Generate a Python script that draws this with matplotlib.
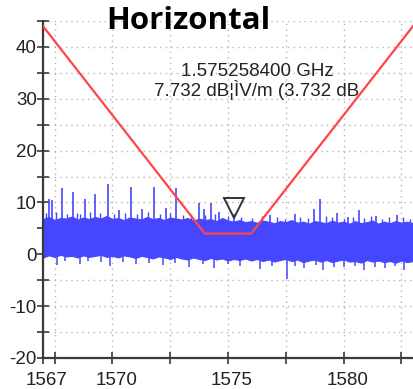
import matplotlib
matplotlib.use("Agg")
import matplotlib.pyplot as plt
import matplotlib.transforms as mtransforms
import numpy as np

# ── data ────────────────────────────────────────────────────────────────────
env_freq = [1567.0 + 0.25 * i for i in range(65)]
band_top = [6.8, 7.2, 6.6, 7.0, 6.9, 7.3, 6.7, 7.1, 6.8, 7.2, 6.9, 7.4,
            6.8, 7.0, 6.6, 7.1, 6.9, 6.7, 7.2, 6.8, 7.0, 6.6, 7.1, 6.9,
            6.7, 7.0, 6.5, 6.9, 6.6, 6.8, 6.4, 7.0, 6.5, 6.3, 6.6, 6.2,
            6.4, 6.1, 6.5, 6.3, 6.0, 6.4, 6.2, 6.6, 6.1, 6.3, 5.9, 6.4,
            6.2, 6.0, 6.5, 6.1, 6.3, 5.9, 6.4, 6.0, 6.2, 6.5, 5.9, 6.3,
            6.0, 6.4, 6.1, 6.3, 6.0]
band_bot = [-0.6, -0.2, -0.5, -0.1, -0.4, -0.3, -0.6, -0.2, -0.5, -0.3, -0.1, -0.5,
            -0.3, -0.6, -0.2, -0.4, -0.7, -0.3, -0.5, -0.8, -0.4, -0.6, -0.9, -0.5,
            -0.8, -1.0, -0.6, -0.9, -1.1, -0.7, -1.0, -0.8, -1.2, -0.9, -1.1, -0.8,
            -1.2, -0.9, -1.3, -1.0, -1.4, -1.1, -0.9, -1.3, -1.0, -1.5, -1.2, -1.0,
            -1.4, -1.1, -1.5, -1.2, -1.0, -1.4, -1.3, -1.6, -1.1, -1.4, -1.2, -1.5,
            -1.3, -1.6, -1.2, -1.5, -1.3]

# tall harmonics above the noise
spike_freq = [1567.26, 1567.39, 1567.82, 1568.29, 1568.80, 1569.27, 1569.79,
              1570.30, 1570.82, 1571.30, 1571.81, 1572.30, 1572.75, 1573.74,
              1573.95, 1574.25, 1574.60, 1575.26, 1576.80, 1577.90, 1578.72,
              1578.97, 1579.70, 1580.18, 1580.65, 1581.40, 1582.30]
spike_top = [10.6, 10.4, 12.8, 12.0, 10.6, 11.6, 13.5,
             8.5, 13.0, 8.8, 13.0, 9.0, 12.8, 9.9,
             8.8, 9.9, 8.2, 7.7, 7.6, 7.8, 8.7,
             10.6, 8.0, 7.2, 8.5, 7.4, 7.6]

# small fuzz along the top edge of the noise
fuzz_freq = [1567.12, 1567.55, 1568.05, 1568.45, 1568.62, 1569.05, 1569.45,
             1570.05, 1570.55, 1571.05, 1571.55, 1572.05, 1572.50, 1573.05,
             1573.40, 1574.00, 1574.45, 1575.00, 1575.55, 1576.05, 1576.45,
             1577.10, 1577.45, 1578.10, 1578.45, 1579.25, 1579.50, 1580.00,
             1580.40, 1580.90, 1581.20, 1581.65, 1581.95, 1582.55, 1582.85]
fuzz_top = [7.9, 8.1, 7.7, 8.0, 7.8, 8.2, 7.9,
            7.8, 8.0, 7.7, 8.1, 7.8, 7.9, 7.6,
            7.8, 7.5, 7.7, 7.4, 7.2, 7.0, 7.3,
            7.1, 6.9, 7.2, 7.0, 7.3, 7.1, 6.9,
            7.2, 7.0, 7.3, 6.9, 7.1, 7.2, 6.9]

dip_freq = [1567.6, 1568.6, 1569.9, 1571.0, 1572.2, 1573.3, 1574.4, 1575.5,
            1576.4, 1577.56, 1578.3, 1579.1, 1580.0, 1580.9, 1581.8, 1582.6,
            1567.95, 1568.95, 1569.5, 1570.45, 1571.6, 1572.7, 1573.9, 1575.0,
            1576.9, 1577.9, 1578.8, 1579.6, 1580.5, 1581.35, 1582.2]
dip_bot = [-2.0, -1.8, -2.3, -1.9, -2.1, -2.4, -2.6, -2.2,
           -2.8, -4.8, -2.6, -3.0, -2.5, -3.1, -2.7, -3.0,
           -1.3, -1.2, -1.4, -1.5, -1.6, -1.7, -1.9, -1.8,
           -2.2, -2.3, -2.1, -2.4, -2.2, -2.5, -2.3]

mask_freq = [1567.0, 1574.0, 1576.0, 1583.0]
mask_level = [44.0, 4.0, 4.0, 44.0]

marker_freq = 1575.2584
marker_y = 8.9
marker_lines = ["1.575258400 GHz", "7.732 dB¦ÌV/m (3.732 dB"]

BLUE = "#4646ff"
RED = "#ff4545"
AXC = "#3a3a3a"

plt.rcParams["font.family"] = ["Liberation Sans", "DejaVu Sans"]
plt.rcParams["axes.unicode_minus"] = False

fig = plt.figure(figsize=(4.13, 3.89), dpi=100)
ax = fig.add_axes([43 / 413, 1 - 358 / 389, 1 - 43 / 413, (358 - 21) / 389])

# noise band + spikes
ax.fill_between(env_freq, band_bot, band_top, color=BLUE, lw=0.8, zorder=2)
ax.vlines(spike_freq, 3.0, spike_top, color=BLUE, lw=1.2, zorder=2)
ax.vlines(fuzz_freq, 3.0, fuzz_top, color=BLUE, lw=1.0, zorder=2)
ax.vlines(dip_freq, dip_bot, 2.0, color=BLUE, lw=1.1, zorder=2)

# limit mask
ax.plot(mask_freq, mask_level, color=RED, lw=1.6, zorder=3)

# marker
ax.plot([marker_freq], [marker_y], marker="v", ms=14, mfc="none",
        mec="#333333", mew=1.4, zorder=4)
ax.text(1576.25, 33.4, "\n".join(marker_lines), ha="center", va="center",
        fontsize=13.5, color="#222222", linespacing=1.0, zorder=5)

ax.set_xlim(1567, 1583)
ax.set_ylim(-20, 45)

ax.set_xticks([1567, 1570, 1575, 1580])
ax.set_xticks([1567.5, 1572.5, 1577.5, 1582.5], minor=True)
ax.set_yticks([-20, -10, 0, 10, 20, 30, 40])
ax.set_yticks([-15, -5, 5, 15, 25, 35, 45], minor=True)

ax.grid(which="both", color="#b5b5b5", ls=(0, (1, 3)), lw=1.0, zorder=0)

for s in ["top", "right"]:
    ax.spines[s].set_visible(False)
for s in ["left", "bottom"]:
    ax.spines[s].set_color(AXC)
    ax.spines[s].set_linewidth(1.6)

ax.tick_params(which="both", direction="inout", length=8, width=1.2,
               color=AXC, labelsize=13.5, labelcolor="#222222")
ax.tick_params(axis="x", pad=6)
ax.tick_params(axis="y", pad=0.5)

offset = mtransforms.ScaledTranslation(4 / 100, 0, fig.dpi_scale_trans)
for lbl in ax.get_xticklabels():
    lbl.set_transform(lbl.get_transform() + offset)

fig.text(188 / 413, 1 - 29 / 389, "Horizontal", ha="center", va="baseline",
         fontsize=22.5, fontweight="bold", family=["Open Sans", "DejaVu Sans"])

fig.savefig("out.png", dpi=100)
